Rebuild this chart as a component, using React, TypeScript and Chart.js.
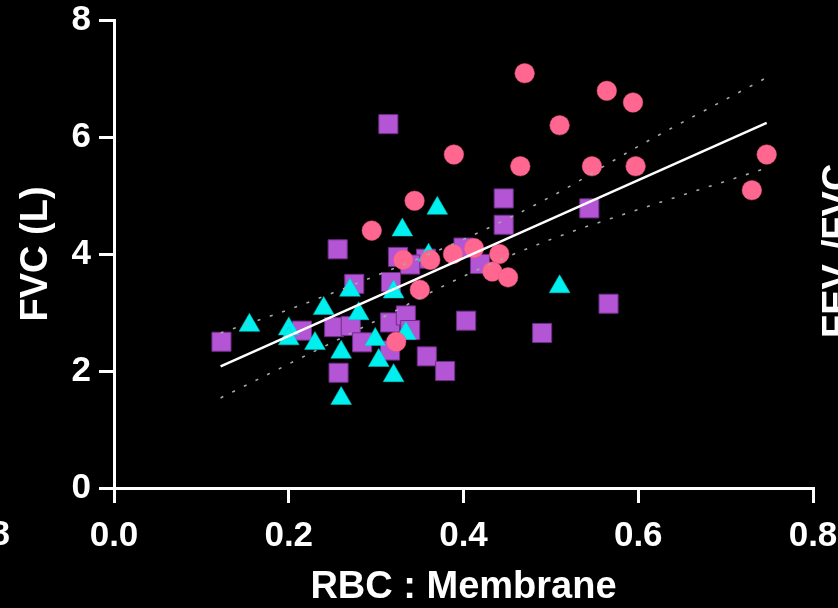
import { useEffect, useRef } from "react";
import { Chart, registerables } from "chart.js";

Chart.register(...registerables);

const xTicks = [0, 0.2, 0.4, 0.6, 0.8];
const yTicks = [0, 2, 4, 6, 8];
const xTitle = "RBC : Membrane";
const yTitle = "FVC (L)";
const leftFragment = "0.8";
const rightFragment = ["FEV", "1", "/FVC"];

const pinkX = [0.470, 0.564, 0.594, 0.510, 0.389, 0.465, 0.547, 0.597, 0.747, 0.730, 0.344, 0.295, 0.331, 0.362, 0.388, 0.412, 0.441, 0.433, 0.451, 0.350, 0.323];
const pinkY = [7.09, 6.79, 6.59, 6.20, 5.70, 5.50, 5.50, 5.50, 5.70, 5.09, 4.91, 4.40, 3.90, 3.90, 4.00, 4.10, 4.00, 3.70, 3.60, 3.39, 2.50];

const purpleX = [0.314, 0.446, 0.446, 0.544, 0.256, 0.325, 0.357, 0.339, 0.400, 0.419, 0.275, 0.317, 0.215, 0.252, 0.271, 0.316, 0.334, 0.339, 0.284, 0.257, 0.316, 0.358, 0.379, 0.403, 0.490, 0.566, 0.123];
const purpleY = [6.22, 4.95, 4.50, 4.78, 4.08, 3.95, 3.92, 3.82, 4.11, 3.83, 3.49, 3.52, 2.69, 2.75, 2.77, 2.83, 2.95, 2.70, 2.49, 1.97, 2.35, 2.25, 2.00, 2.86, 2.65, 3.15, 2.50];

const cyanX = [0.155, 0.200, 0.200, 0.230, 0.240, 0.270, 0.280, 0.260, 0.299, 0.303, 0.320, 0.260, 0.320, 0.334, 0.330, 0.370, 0.360, 0.510];
const cyanY = [2.78, 2.72, 2.55, 2.47, 3.07, 3.38, 2.98, 2.32, 2.54, 2.18, 1.92, 1.53, 3.35, 2.64, 4.41, 4.78, 3.98, 3.44];

const fitX = [0.122, 0.747];
const fitY = [2.08, 6.24];

const bandX = [0.122, 0.2, 0.3, 0.4, 0.5, 0.6, 0.745];
const bandUpper = [2.65, 3.05, 3.63, 4.25, 4.98, 5.84, 7.0];
const bandLower = [1.54, 2.12, 2.86, 3.62, 4.25, 4.76, 5.46];

const FONT = '"Liberation Sans", Arial, Helvetica, sans-serif';

const pts = (xs: number[], ys: number[]) => xs.map((x, i) => ({ x, y: ys[i] }));

const fragmentsPlugin = {
  id: "fragments",
  beforeDraw(chart: any) {
    const ctx = chart.ctx;
    ctx.save();
    ctx.fillStyle = "#000";
    ctx.fillRect(0, 0, chart.width, chart.height);
    ctx.restore();
  },
  afterDraw(chart: any) {
    const ctx = chart.ctx;
    ctx.save();
    ctx.fillStyle = "#fff";
    ctx.font = `bold 35px ${FONT}`;
    ctx.textAlign = "right";
    ctx.textBaseline = "middle";
    ctx.fillText(leftFragment, 10, 535);
    ctx.translate(849, 338);
    ctx.rotate(-Math.PI / 2);
    ctx.textAlign = "left";
    ctx.textBaseline = "alphabetic";
    ctx.font = `bold 38px ${FONT}`;
    ctx.fillText(rightFragment[0], 0, 0);
    let w = ctx.measureText(rightFragment[0]).width;
    ctx.font = `bold 25px ${FONT}`;
    ctx.fillText(rightFragment[1], w, 9);
    w += ctx.measureText(rightFragment[1]).width;
    ctx.font = `bold 38px ${FONT}`;
    ctx.fillText(rightFragment[2], w, 0);
    ctx.restore();
  },
};

export default function App() {
  const ref = useRef<HTMLCanvasElement>(null);
  useEffect(() => {
    const tickFont = { family: FONT, size: 35, weight: "bold" as const, lineHeight: 1 };
    const titleFont = { family: FONT, size: 38, weight: "bold" as const, lineHeight: 1.2 };
    const grid = {
      display: true,
      drawOnChartArea: false,
      drawTicks: true,
      tickLength: 15,
      color: "#fff",
      lineWidth: 3,
    };
    const border = { display: true, color: "#fff", width: 3 };
    const chart = new Chart(ref.current!, {
      type: "scatter",
      data: {
        datasets: [
          {
            type: "line",
            data: pts(fitX, fitY),
            borderColor: "#fff",
            borderWidth: 2.5,
            pointRadius: 0,
            order: 0,
          } as any,
          {
            type: "line",
            data: pts(bandX, bandUpper),
            borderColor: "#a8a8a8",
            borderWidth: 1.6,
            borderDash: [3, 10],
            pointRadius: 0,
            cubicInterpolationMode: "monotone",
            order: 1,
          } as any,
          {
            type: "line",
            data: pts(bandX, bandLower),
            borderColor: "#a8a8a8",
            borderWidth: 1.6,
            borderDash: [3, 10],
            pointRadius: 0,
            cubicInterpolationMode: "monotone",
            order: 1,
          } as any,
          {
            data: pts(pinkX, pinkY),
            pointStyle: "circle",
            pointRadius: 9.8,
            backgroundColor: "#ff6690",
            borderColor: "#e8557e",
            borderWidth: 0.5,
            order: 2,
          },
          {
            data: pts(cyanX, cyanY),
            pointStyle: "triangle",
            pointRadius: 12,
            backgroundColor: "#00f0f0",
            borderColor: "#00c8c8",
            borderWidth: 0.5,
            order: 3,
          },
          {
            data: pts(purpleX, purpleY),
            pointStyle: "rect",
            pointRadius: 13.5,
            backgroundColor: "#b455d5",
            borderColor: "#6e2e86",
            borderWidth: 1,
            order: 4,
          },
        ],
      },
      options: {
        responsive: false,
        devicePixelRatio: 1,
        animation: false,
        events: [],
        layout: { padding: { top: 20, right: 25, left: 0, bottom: 0 } },
        plugins: { legend: { display: false }, tooltip: { enabled: false } },
        scales: {
          x: {
            type: "linear",
            min: 0,
            max: 0.8,
            afterFit: (s: any) => {
              s.height = 120;
              s.paddingLeft = 0;
              s.paddingRight = 0;
            },
            afterBuildTicks: (s: any) => {
              s.ticks = xTicks.map((v) => ({ value: v }));
            },
            ticks: {
              color: "#fff",
              font: tickFont,
              padding: 16,
              maxRotation: 0,
              autoSkip: false,
              callback: (v: any) => Number(v).toFixed(1),
            },
            grid,
            border,
            title: {
              display: true,
              text: xTitle,
              color: "#fff",
              font: titleFont,
              padding: { top: 0, bottom: -2 },
            },
          },
          y: {
            type: "linear",
            min: 0,
            max: 8,
            afterFit: (s: any) => {
              s.width = 114;
              s.paddingTop = 0;
              s.paddingBottom = 0;
            },
            afterBuildTicks: (s: any) => {
              s.ticks = yTicks.map((v) => ({ value: v }));
            },
            ticks: {
              color: "#fff",
              font: tickFont,
              padding: 8,
              autoSkip: false,
              callback: (v: any) => String(v),
            },
            grid,
            border,
            title: {
              display: true,
              text: yTitle,
              color: "#fff",
              font: titleFont,
              padding: { top: 14, bottom: 0 },
            },
          },
        },
      },
      plugins: [fragmentsPlugin],
    } as any);
    return () => chart.destroy();
  }, []);
  return (
    <div style={{ position: "fixed", left: 0, top: 0, width: 838, height: 608, background: "#000" }}>
      <canvas ref={ref} width={838} height={608} style={{ display: "block", width: 838, height: 608 }} />
    </div>
  );
}
